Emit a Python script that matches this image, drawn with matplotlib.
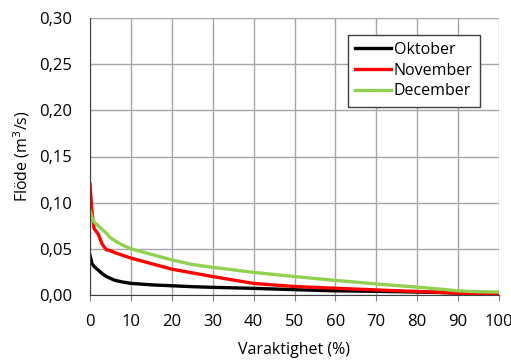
import matplotlib
matplotlib.use("Agg")
import matplotlib.pyplot as plt
from matplotlib.ticker import FuncFormatter

x_pct = [0, 0.5, 1, 2, 3, 4, 5, 6, 8, 10, 15, 20, 25, 30, 40, 50, 60, 70, 80, 85, 90, 95, 100]
oktober = [0.043, 0.034, 0.031, 0.027, 0.023, 0.020, 0.018, 0.016, 0.014, 0.0126, 0.011, 0.010, 0.009, 0.0083, 0.0072, 0.0058, 0.0045, 0.0040, 0.0032, 0.0028, 0.0020, 0.0012, 0.0008]
november = [0.120, 0.090, 0.072, 0.066, 0.055, 0.049, 0.048, 0.046, 0.043, 0.040, 0.034, 0.028, 0.024, 0.020, 0.0125, 0.0092, 0.0073, 0.0055, 0.0038, 0.0030, 0.0020, 0.0013, 0.0010]
december = [0.092, 0.084, 0.079, 0.075, 0.071, 0.067, 0.062, 0.059, 0.054, 0.050, 0.044, 0.038, 0.033, 0.030, 0.0245, 0.020, 0.0158, 0.012, 0.0085, 0.0066, 0.0045, 0.0035, 0.0032]

plt.rcParams['font.family'] = ['Open Sans', 'DejaVu Sans']

fig = plt.figure(figsize=(5.11, 3.61), dpi=100)
ax = fig.add_axes([90/511, 1-295/361, 409/511, 277/361])

ax.plot(x_pct, oktober, color='black', lw=2.4, label='Oktober')
ax.plot(x_pct, november, color='#ff0000', lw=2.4, label='November')
ax.plot(x_pct, december, color='#92d050', lw=2.4, label='December')

ax.set_xlim(0, 100)
ax.set_ylim(0, 0.30)
ax.set_xticks(range(0, 101, 10))
ax.set_yticks([0, 0.05, 0.10, 0.15, 0.20, 0.25, 0.30])
ax.yaxis.set_major_formatter(FuncFormatter(lambda v, p: f"{v:.2f}".replace('.', ',')))
ax.grid(True, color='#a6a6a6', lw=1)
ax.set_axisbelow(True)
for s in ['top', 'right']:
    ax.spines[s].set_visible(False)
for s in ['left', 'bottom']:
    ax.spines[s].set_color('#404040')
ax.tick_params(axis='x', labelsize=12, colors='black', length=4, color='#808080', pad=10)
ax.tick_params(axis='y', labelsize=12, colors='black', length=0, pad=13)
ax.set_xlabel('Varaktighet (%)', fontsize=11.5, labelpad=8)
ax.set_ylabel('Flöde (m$^3$/s)', fontsize=11.5, labelpad=5)

leg = ax.legend(loc='upper right', bbox_to_anchor=(0.953, 0.94), fontsize=11.5,
                frameon=True, fancybox=False, edgecolor='#404040', framealpha=1,
                handlelength=2.2, handletextpad=0.2, labelspacing=0.3, borderpad=0.45,
                borderaxespad=0)
leg.get_frame().set_linewidth(1)

fig.savefig('out.png', dpi=100)
